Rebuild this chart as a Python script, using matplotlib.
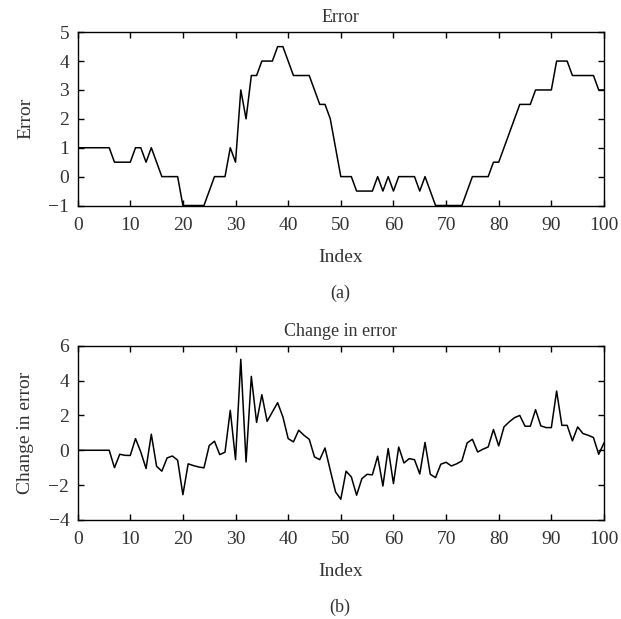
import matplotlib
matplotlib.use("Agg")
import matplotlib.pyplot as plt
import numpy as np

index = list(range(0, 101))
error = [1, 1, 1, 1, 1, 1, 1, 0.5, 0.5, 0.5,
         0.5, 1, 1, 0.5, 1, 0.5, 0, 0, 0, 0,
         -1, -1, -1, -1, -1, -0.5, 0, 0, 0, 1,
         0.5, 3, 2, 3.5, 3.5, 4, 4, 4, 4.5, 4.5,
         4, 3.5, 3.5, 3.5, 3.5, 3, 2.5, 2.5, 2, 1,
         0, 0, 0, -0.5, -0.5, -0.5, -0.5, 0, -0.5, 0,
         -0.5, 0, 0, 0, 0, -0.5, 0, -0.5, -1, -1,
         -1, -1, -1, -1, -0.5, 0, 0, 0, 0, 0.5,
         0.5, 1, 1.5, 2, 2.5, 2.5, 2.5, 3, 3, 3,
         3, 4, 4, 4, 3.5, 3.5, 3.5, 3.5, 3.5, 3,
         3]
change = [0, 0, 0, 0, 0, 0, 0, -1.0, -0.23, -0.29,
          -0.3, 0.67, -0.1, -1.05, 0.92, -0.92, -1.2, -0.44, -0.33, -0.57,
          -2.55, -0.78, -0.88, -0.96, -1.01, 0.27, 0.52, -0.25, -0.11, 2.29,
          -0.54, 5.22, -0.67, 4.24, 1.6, 3.19, 1.66, 2.2, 2.73, 1.91,
          0.67, 0.48, 1.15, 0.86, 0.63, -0.38, -0.54, 0.13, -1.15, -2.39,
          -2.81, -1.2, -1.53, -2.58, -1.63, -1.38, -1.41, -0.34, -2.05, 0.1,
          -1.91, 0.19, -0.73, -0.48, -0.54, -1.36, 0.45, -1.38, -1.57, -0.8,
          -0.69, -0.9, -0.78, -0.61, 0.42, 0.63, -0.1, 0.06, 0.19, 1.19,
          0.25, 1.34, 1.63, 1.87, 2.0, 1.38, 1.38, 2.33, 1.4, 1.3,
          1.3, 3.4, 1.43, 1.43, 0.54, 1.34, 0.96, 0.86, 0.73, -0.23,
          0.42]

plt.rcParams['font.family'] = ['Liberation Serif', 'DejaVu Serif']
txt = '#333333'
fs = 14

fig = plt.figure(figsize=(6.21, 6.19), dpi=100)
ax1 = fig.add_axes([0.125, 0.668, 0.8476, 0.280])
ax2 = fig.add_axes([0.125, 0.160, 0.8476, 0.2815])

def style(ax):
    ax.set_xlim(0, 100)
    ax.set_xticks(range(0, 101, 10))
    ax.tick_params(direction='in', top=True, right=True, length=4, width=1,
                   labelsize=fs, labelcolor=txt)
    ax.tick_params(axis='x', pad=8)
    ax.tick_params(axis='y', pad=6)
    for s in ax.spines.values():
        s.set_linewidth(1)
    ax.set_xlabel('Index', fontsize=fs, color=txt, labelpad=11)
    ax.yaxis.set_label_coords(-0.082, 0.5)

ax1.plot(index, error, color='black', lw=1.1)
style(ax1)
ax1.set_ylim(-1, 5)
ax1.set_yticks(range(-1, 6))
ax1.set_title('Error', fontsize=13, color=txt, pad=7)
ax1.set_ylabel('Error', fontsize=fs, color=txt)

ax2.plot(index, change, color='black', lw=1.1)
style(ax2)
ax2.set_ylim(-4, 6)
ax2.set_yticks(range(-4, 7, 2))
ax2.set_title('Change in error', fontsize=13, color=txt, pad=7)
ax2.set_ylabel('Change in error', fontsize=fs, color=txt)

fig.text(0.5475, 1 - 293 / 619, '(a)', ha='center', va='center', fontsize=13, color=txt)
fig.text(0.5475, 1 - 607 / 619, '(b)', ha='center', va='center', fontsize=13, color=txt)

fig.savefig('out.png', dpi=100)
